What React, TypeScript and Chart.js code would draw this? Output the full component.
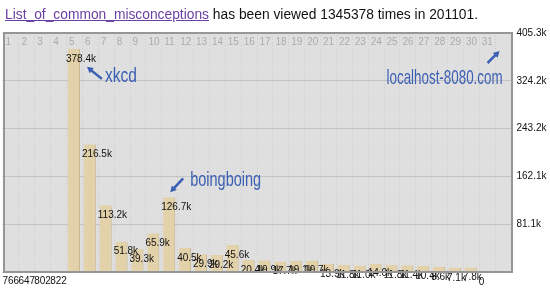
import React, { useEffect, useRef } from "react";
import { Chart, registerables } from "chart.js";

Chart.register(...registerables);

const days: string[] = [
  "1", "2", "3", "4", "5", "6", "7", "8", "9", "10", "11", "12", "13", "14", "15", "16",
  "17", "18", "19", "20", "21", "22", "23", "24", "25", "26", "27", "28", "29", "30", "31", "",
];

const views: (number | null)[] = [
  766, 647, 802, 822, 378400, 216500, 113200, 51800, 39300, 65900, 126700, 40500, 29900, 29200,
  45600, 20400, 19900, 17700, 19100, 19700, 13900, 11800, 11000, 14000, 11800, 11400, 10400,
  8600, 7100, 7800, 0, null,
];

const yTickValues: number[] = [0, 81060, 162120, 243180, 324240, 405300];

const articleName = "List_of_common_misconceptions";
const totalViews = 1345378;
const monthCode = "201101";

const callouts = [
  { text: "xkcd", index: 4, value: 378400, tx: 31, ty: 33, w: 32, ax1: 28, ay1: 30, ax2: 13, ay2: 18 },
  { text: "boingboing", index: 10, value: 126700, tx: 21, ty: -11, w: 71, ax1: 14, ay1: -19, ax2: 1, ay2: -5 },
  { text: "localhost-8080.com", index: 31, value: 405300, tx: -116, ty: 51, w: 116, ax1: -15, ay1: 30, ax2: -3, ay2: 18 },
];

const FONT = "'Liberation Sans', Arial, sans-serif";

function fmt(v: number): string {
  if (v < 1000) return String(v);
  return (v / 1000).toFixed(1) + "k";
}

const decor = {
  id: "decor",
  beforeDraw(chart: any) {
    const { ctx, chartArea: a } = chart;
    ctx.save();
    ctx.fillStyle = "#ffffff";
    ctx.fillRect(0, 0, chart.width, chart.height);
    ctx.fillStyle = "#dfdfdf";
    ctx.fillRect(a.left + 1.5, a.top, a.right - a.left, a.bottom - a.top);
    ctx.restore();
  },
  beforeDatasetsDraw(chart: any) {
    const { ctx, chartArea: a, scales } = chart;
    const xs = scales.x;
    const colW = (a.right - a.left) / days.length;
    ctx.save();
    ctx.strokeStyle = "#cbcbcb";
    ctx.lineWidth = 1;
    ctx.setLineDash([1, 2]);
    for (let i = 1; i < days.length; i++) {
      const x = Math.round(xs.getPixelForValue(i) - colW / 2) + 0.5;
      ctx.beginPath();
      ctx.moveTo(x, a.top);
      ctx.lineTo(x, a.bottom);
      ctx.stroke();
    }
    ctx.restore();
  },
  afterDatasetsDraw(chart: any) {
    const { ctx, chartArea: a, scales } = chart;
    const xs = scales.x;
    const ys = scales.y;
    const colW = (a.right - a.left) / days.length;
    ctx.save();
    ctx.font = `10px ${FONT}`;
    ctx.fillStyle = "#ababab";
    ctx.textAlign = "left";
    ctx.textBaseline = "middle";
    days.forEach((d, i) => {
      ctx.fillText(d, xs.getPixelForValue(i) - colW / 2 + 3, a.top + 9);
    });
    ctx.fillStyle = "#111";
    views.forEach((v, i) => {
      if (v === null) return;
      ctx.fillText(fmt(v), xs.getPixelForValue(i) - colW / 2, ys.getPixelForValue(v) + 10);
    });
    ctx.strokeStyle = "#969696";
    ctx.lineWidth = 2;
    ctx.strokeRect(a.left + 1.5, a.top, a.right - a.left, a.bottom - a.top);
    const blue = "#3a5fb3";
    callouts.forEach((c) => {
      const px = xs.getPixelForValue(c.index);
      const py = ys.getPixelForValue(c.value);
      ctx.save();
      ctx.font = `21px ${FONT}`;
      ctx.fillStyle = blue;
      ctx.textBaseline = "alphabetic";
      ctx.textAlign = "left";
      const mw = ctx.measureText(c.text).width;
      ctx.translate(px + c.tx, py + c.ty);
      ctx.scale(c.w / mw, 1);
      ctx.fillText(c.text, 0, 0);
      ctx.restore();
      const x1 = px + c.ax1, y1 = py + c.ay1, x2 = px + c.ax2, y2 = py + c.ay2;
      const ang = Math.atan2(y2 - y1, x2 - x1);
      const head = 7;
      ctx.strokeStyle = blue;
      ctx.fillStyle = blue;
      ctx.lineWidth = 2.5;
      ctx.beginPath();
      ctx.moveTo(x1, y1);
      ctx.lineTo(x2 - Math.cos(ang) * head * 0.7, y2 - Math.sin(ang) * head * 0.7);
      ctx.stroke();
      ctx.beginPath();
      ctx.moveTo(x2, y2);
      ctx.lineTo(x2 - head * Math.cos(ang - 0.5), y2 - head * Math.sin(ang - 0.5));
      ctx.lineTo(x2 - head * Math.cos(ang + 0.5), y2 - head * Math.sin(ang + 0.5));
      ctx.closePath();
      ctx.fill();
    });
    ctx.restore();
  },
};

export default function App() {
  const ref = useRef<HTMLCanvasElement | null>(null);
  useEffect(() => {
    document.body.style.margin = "0";
    const canvas = ref.current;
    if (!canvas) return;
    const chart = new Chart(canvas, {
      type: "bar",
      data: {
        labels: days,
        datasets: [
          {
            data: views as any,
            backgroundColor: "#e3d1a9",
            borderColor: "#c9b68d",
            borderWidth: { left: 0, top: 0, bottom: 0, right: 1 } as any,
            borderSkipped: false as any,
            categoryPercentage: 1,
            barPercentage: 0.76,
          },
        ],
      },
      options: {
        animation: false,
        responsive: false,
        maintainAspectRatio: false,
        layout: { padding: { left: 2.5, top: 33, bottom: 17, right: 0 } },
        plugins: { legend: { display: false }, tooltip: { enabled: false }, title: { display: false } },
        scales: {
          x: { display: false, offset: true },
          y: {
            position: "right",
            min: 0,
            max: 405300,
            afterFit: (s: any) => {
              s.width = 39.5;
            },
            afterBuildTicks: (s: any) => {
              s.ticks = yTickValues.map((v) => ({ value: v }));
            },
            grid: { color: "#c4c4c4", drawTicks: false },
            border: { display: false },
            ticks: {
              padding: 6,
              color: "#111",
              font: { family: FONT, size: 10 },
              callback: (v: any) => (Number(v) === 0 ? "" : fmt(Number(v))),
            },
          },
        },
      },
      plugins: [decor],
    });
    return () => chart.destroy();
  }, []);

  return (
    <div style={{ position: "relative", width: 550, height: 289, background: "#fff" }}>
      <canvas ref={ref} width={550} height={289} style={{ position: "absolute", left: 0, top: 0 }} />
      <div
        style={{
          position: "absolute",
          left: 5,
          top: 7,
          fontFamily: FONT,
          fontSize: 13.8,
          lineHeight: "16px",
          color: "#111",
          whiteSpace: "nowrap",
        }}
      >
        <a href="#" style={{ color: "#6a3fa3", textDecoration: "underline" }}>
          {articleName}
        </a>{" "}
        has been viewed {totalViews} times in {monthCode}.
      </div>
    </div>
  );
}
